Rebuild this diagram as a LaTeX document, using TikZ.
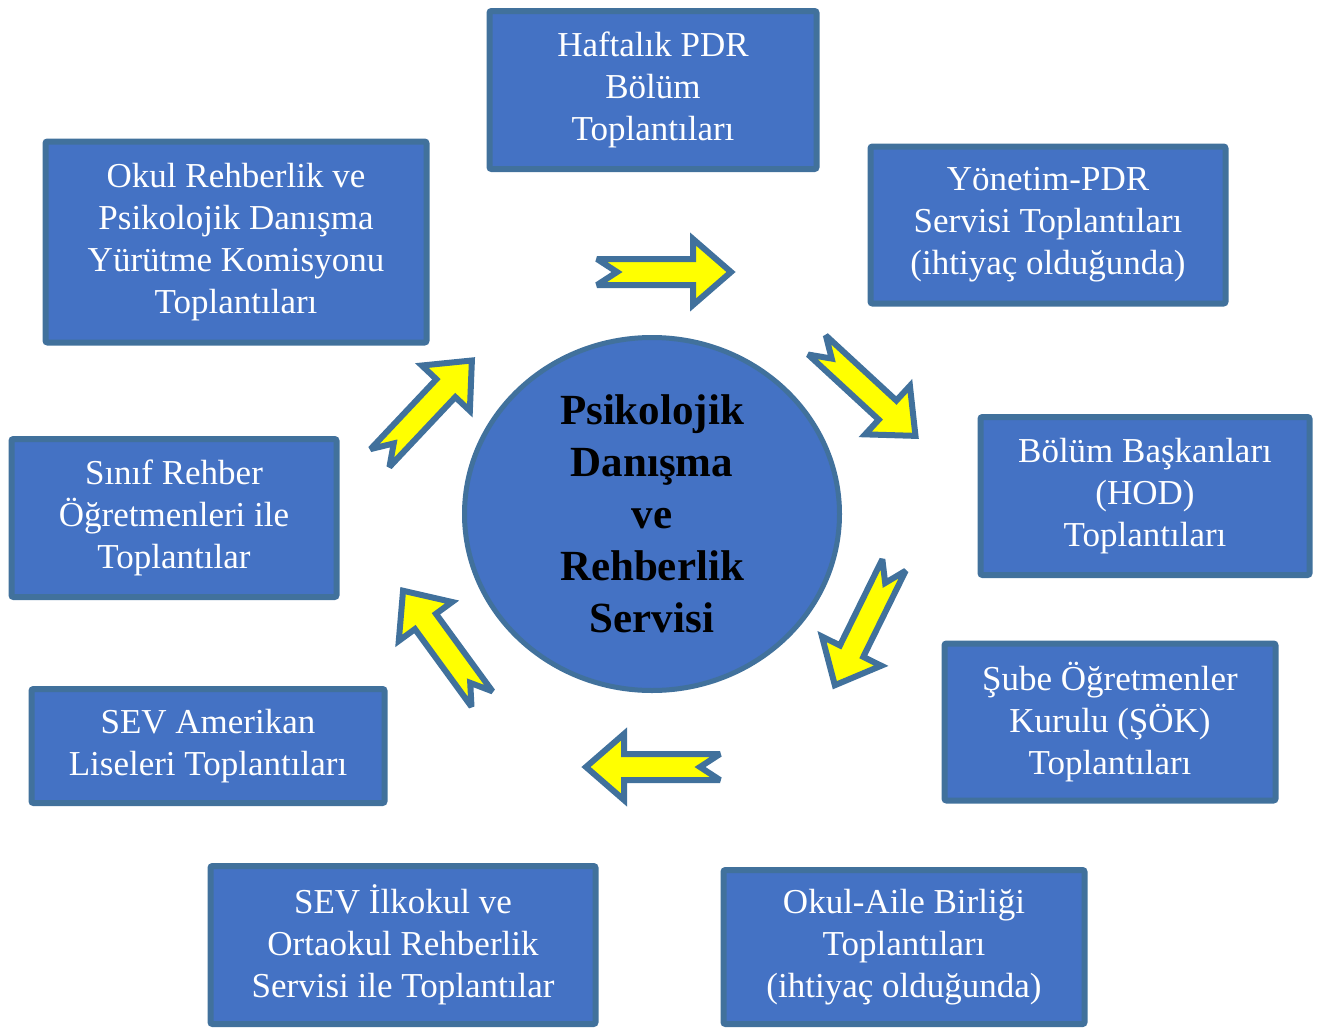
\documentclass[tikz,border=0pt]{standalone}
\usepackage{fontspec}
\setmainfont{Liberation Serif}
\usetikzlibrary{shapes.geometric}
\definecolor{boxfill}{HTML}{4472C4}
\definecolor{boxline}{HTML}{41719C}
\definecolor{arrowfill}{HTML}{FFFF00}
\tikzset{
  infobox/.style={draw=boxline, fill=boxfill, line width=6pt, rounded corners=2pt,
    text=white, align=center, inner sep=0pt,
    font=\fontsize{35}{42}\selectfont},
  hub/.style={ellipse, draw=boxline, fill=boxfill, line width=5pt, inner sep=0pt,
    align=center, font=\fontsize{43}{52}\selectfont\bfseries},
  fatarrow/.style={draw=boxline, fill=arrowfill, line width=6pt, line join=miter, miter limit=3}
}
\newcommand{\notcharrow}[3]{%
  \begin{scope}[shift={(#1,#2)}, rotate=#3]
    \draw[fatarrow] (0,-13) -- (96,-13) -- (96,-33) -- (134,0) -- (96,33) -- (96,13) -- (0,13) -- (20,0) -- cycle;
  \end{scope}}
\begin{document}
\begin{tikzpicture}[x=1pt,y=-1pt]
\useasboundingbox (0,0) rectangle (1322,1028);
\node[infobox, minimum width=327pt, minimum height=158pt] (hafta) at (653,90) {Haftalık PDR\\Bölüm\\Toplantıları};
\node[infobox, minimum width=355pt, minimum height=157pt] (yonetim) at (1048,225) {Yönetim-PDR\\Servisi Toplantıları\\(ihtiyaç olduğunda)};
\node[infobox, minimum width=329pt, minimum height=158pt] (bolum) at (1145,496) {Bölüm Başkanları\\(HOD)\\Toplantıları};
\node[infobox, minimum width=331pt, minimum height=157pt] (sube) at (1110,722) {Şube Öğretmenler\\Kurulu (ŞÖK)\\Toplantıları};
\node[infobox, minimum width=361pt, minimum height=154pt] (aile) at (904,947) {Okul-Aile Birliği\\Toplantıları\\(ihtiyaç olduğunda)};
\node[infobox, minimum width=385pt, minimum height=158pt] (ilkokul) at (403,945) {SEV İlkokul ve\\Ortaokul Rehberlik\\Servisi ile Toplantılar};
\node[infobox, minimum width=353pt, minimum height=114pt] (amerikan) at (208,746) {SEV Amerikan\\Liseleri Toplantıları};
\node[infobox, minimum width=325pt, minimum height=158pt] (sinif) at (174,518) {Sınıf Rehber\\Öğretmenleri ile\\Toplantılar};
\node[infobox, minimum width=381pt, minimum height=201pt] (okul) at (236,242) {Okul Rehberlik ve\\Psikolojik Danışma\\Yürütme Komisyonu\\Toplantıları};
\node[hub, minimum width=375pt, minimum height=353pt] (pdr) at (652,514) {Psikolojik\\Danışma\\ve\\Rehberlik\\Servisi};
\notcharrow{597}{272}{0}
\notcharrow{817}{345}{-42.7}
\notcharrow{894}{565}{-116.2}
\notcharrow{720}{767}{180}
\notcharrow{482}{699}{126.1}
\notcharrow{380}{458}{46.7}
\end{tikzpicture}
\end{document}
